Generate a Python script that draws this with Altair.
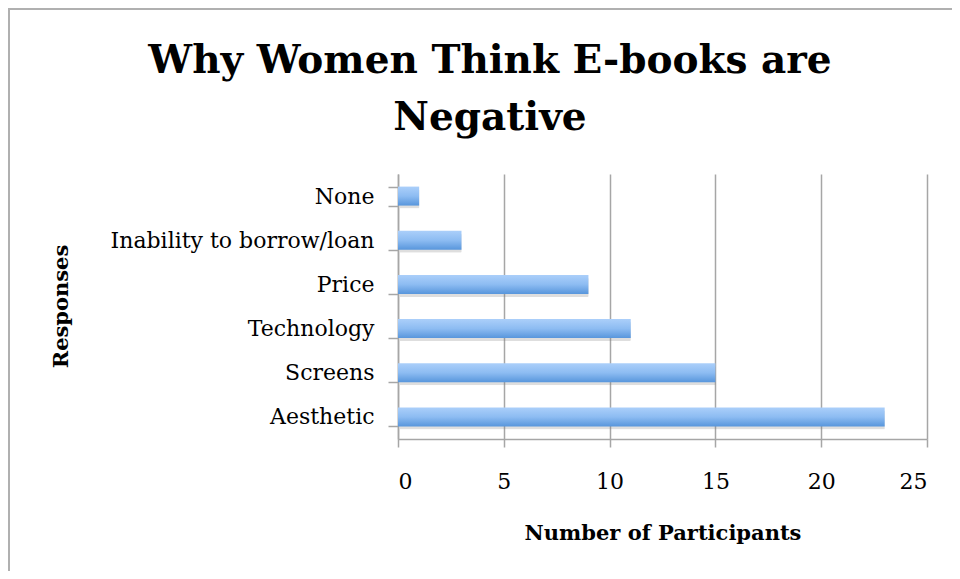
import altair as alt
import pandas as pd

responses = ["None", "Inability to borrow/loan", "Price", "Technology", "Screens", "Aesthetic"]
participants = [1, 3, 9, 11, 15, 23]
x_ticks = [0, 5, 10, 15, 20, 25]
title_lines = ["Why Women Think E-books are", "Negative"]

df = pd.DataFrame({"Response": responses, "Participants": participants})

SERIF = "DejaVu Serif"
GRID = "#a6a6a6"

grad = alt.LinearGradient(
    gradient="linear",
    stops=[alt.GradientStop(color="#abcffa", offset=0),
           alt.GradientStop(color="#8dbcf2", offset=0.5),
           alt.GradientStop(color="#5896dc", offset=1)],
    x1=0, x2=0, y1=0, y2=1,
)

y_enc = alt.Y("Response:N", sort=responses,
              scale=alt.Scale(paddingInner=0.57, paddingOuter=0.285),
              axis=alt.Axis(title="Responses", titleFont=SERIF, titleFontSize=21,
                            titleFontWeight="bold", titleColor="black",
                            titleX=-337, titleY=132, titleAngle=270,
                            titleAlign="center", titleBaseline="middle",
                            labelFont=SERIF, labelFontSize=22, labelColor="black",
                            labelPadding=14, labelLimit=400, tickBand="extent", tickSize=10,
                            tickColor=GRID, tickWidth=1.5, domainColor=GRID,
                            domainWidth=1.5, grid=False))
x_enc = alt.X("Participants:Q",
              scale=alt.Scale(domain=[0, 25], nice=False),
              axis=alt.Axis(title="Number of Participants", values=x_ticks,
                            titleFont=SERIF, titleFontSize=21, titleFontWeight="bold",
                            titleColor="black", titlePadding=30,
                            labelFont=SERIF, labelFontSize=22, labelColor="black",
                            labelPadding=24, tickSize=8, tickColor=GRID, tickWidth=1.5,
                            domainColor=GRID, domainWidth=1.5,
                            grid=True, gridColor=GRID, gridWidth=1.5))

shadow = alt.Chart(df).mark_bar(color="#7a7a7a", opacity=0.25, xOffset=2, yOffset=3,
                                 cornerRadius=1).encode(x=x_enc, y=y_enc)
bars = alt.Chart(df).mark_bar(color=grad).encode(x=x_enc, y=y_enc)

frame = alt.Chart(df).mark_rect(fill=None, stroke="#b0b0b0", strokeWidth=2, clip=False).encode(
    x=alt.value(-389), x2=alt.value(600), y=alt.value(-165), y2=alt.value(460))

tdf1 = pd.DataFrame({"t": [title_lines[0]]})
tdf2 = pd.DataFrame({"t": [title_lines[1]]})
title1 = alt.Chart(tdf1).mark_text(font=SERIF, fontSize=39, fontWeight="bold", color="black",
                                   align="center", baseline="alphabetic").encode(
    text="t:N", x=alt.value(92), y=alt.value(-101))
title2 = alt.Chart(tdf2).mark_text(font=SERIF, fontSize=39, fontWeight="bold", color="black",
                                   align="center", baseline="alphabetic").encode(
    text="t:N", x=alt.value(92), y=alt.value(-44))

chart = alt.layer(frame, shadow, bars, title1, title2).properties(
    width=529, height=265,
    padding={"left": 390, "top": 166, "right": 25, "bottom": 132},
    autosize=alt.AutoSizeParams(type="none"),
).configure_view(stroke=None)

chart.save("out.html", embed_options={"renderer": "svg", "actions": False})
